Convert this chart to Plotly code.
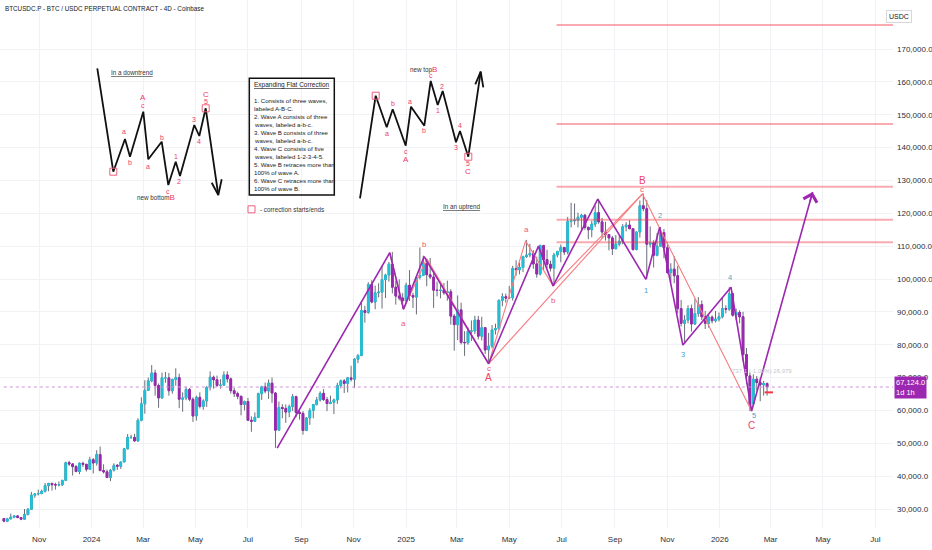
import numpy as np
import pandas as pd
import plotly.graph_objects as go

# BTCUSDC.P 4D bars, prices in thousands of USDC (open = previous close)
first_open = 27.1
closes = [
    26.3, 27.0, 27.5, 27.9, 27.4, 26.9, 28.3, 29.9, 34.2, 34.6,
    34.7, 35.4, 37.1, 37.8, 37.4, 37.3, 37.4, 38.7, 44.1, 43.7,
    42.9, 41.4, 43.9, 43.6, 42.1, 45.0, 44.0, 46.6, 41.7, 41.3,
    39.6, 41.8, 43.3, 43.0, 44.3, 48.3, 51.8, 51.8, 50.7, 57.0,
    62.0, 66.1, 69.0, 71.4, 67.6, 63.8, 69.9, 69.9, 66.0, 69.4,
    70.0, 63.4, 63.8, 66.4, 63.4, 58.3, 64.0, 61.2, 62.9, 67.0,
    70.1, 69.3, 67.6, 67.7, 70.8, 69.6, 66.0, 65.1, 64.3, 61.8,
    62.7, 57.0, 56.7, 57.9, 65.1, 67.2, 65.9, 68.3, 65.3, 54.0,
    60.9, 60.6, 59.5, 61.2, 64.2, 59.4, 59.1, 53.9, 57.7, 60.0,
    61.8, 63.2, 65.2, 63.3, 62.1, 62.5, 63.2, 67.6, 69.0, 68.2,
    69.9, 69.5, 75.6, 76.7, 90.4, 89.8, 98.3, 93.0, 95.8, 96.0,
    99.8, 101.2, 104.5, 97.5, 94.8, 94.2, 93.4, 98.1, 95.0, 94.5,
    100.5, 101.1, 104.7, 101.3, 100.6, 96.6, 96.5, 96.6, 95.8, 96.1,
    88.7, 86.1, 90.6, 80.7, 80.6, 84.1, 84.2, 87.5, 82.6, 85.2,
    78.4, 79.6, 84.5, 84.9, 93.5, 94.6, 94.2, 94.3, 103.2, 102.8,
    103.5, 106.8, 107.3, 107.8, 104.6, 101.5, 110.2, 105.9, 104.5, 103.3,
    107.3, 108.4, 109.6, 108.2, 117.5, 117.7, 117.9, 118.8, 119.4, 115.7,
    115.0, 116.7, 120.2, 117.4, 114.3, 113.5, 112.5, 109.2, 110.6, 111.5,
    115.9, 116.4, 115.3, 109.0, 114.3, 122.3, 121.4, 110.6, 111.0, 107.2,
    110.0, 114.1, 109.5, 102.0, 103.0, 101.0, 91.0, 86.5, 87.5, 91.0,
    86.3, 89.5, 92.2, 88.5, 86.5, 88.4, 87.3, 87.8, 88.5, 91.0,
    90.8, 95.5, 89.0, 89.8, 88.5, 77.0, 70.5, 62.0, 69.5, 68.5,
    67.8, 68.2, 67.124,
]
highs = [
    27.2, 27.3, 28.6, 28.0, 28.0, 27.5, 30.0, 30.3, 35.2, 34.8,
    35.9, 35.9, 37.9, 37.9, 37.9, 38.0, 38.4, 38.9, 44.4, 44.7,
    44.0, 43.4, 44.2, 44.4, 43.7, 45.9, 45.5, 47.9, 49.0, 43.6,
    42.0, 42.2, 43.9, 43.7, 44.4, 48.6, 52.8, 52.6, 52.9, 57.6,
    64.0, 69.2, 70.0, 73.8, 72.4, 68.2, 71.5, 71.7, 71.4, 69.7,
    72.8, 71.2, 65.5, 67.2, 66.8, 64.0, 64.5, 65.5, 63.4, 67.4,
    71.9, 70.6, 70.6, 69.5, 71.9, 71.9, 70.0, 66.9, 65.7, 64.5,
    63.0, 63.8, 58.2, 59.4, 65.4, 67.5, 68.5, 69.4, 70.0, 65.6,
    62.7, 61.9, 61.8, 61.8, 65.0, 64.5, 60.2, 59.8, 58.0, 60.7,
    62.0, 64.1, 65.8, 66.5, 64.1, 64.5, 63.6, 68.4, 69.4, 69.5,
    70.2, 73.6, 75.9, 77.2, 93.4, 91.8, 99.0, 99.6, 98.0, 98.7,
    104.0, 101.6, 105.2, 108.2, 99.5, 99.9, 95.7, 98.9, 102.7, 95.8,
    100.8, 109.6, 107.1, 105.3, 106.4, 102.5, 99.2, 98.5, 98.8, 99.5,
    96.9, 89.3, 95.0, 92.8, 84.1, 85.3, 87.4, 88.8, 88.8, 88.5,
    84.7, 83.6, 86.0, 86.4, 93.8, 95.7, 95.6, 97.9, 104.0, 105.7,
    105.0, 107.1, 111.9, 110.7, 108.8, 106.8, 110.5, 110.4, 108.9, 105.6,
    108.0, 108.5, 110.5, 109.7, 118.9, 123.2, 123.0, 120.2, 119.8, 119.8,
    116.0, 117.7, 122.3, 124.4, 118.6, 117.4, 113.6, 113.1, 113.4, 113.3,
    116.7, 117.3, 117.9, 115.4, 114.5, 123.9, 126.0, 124.0, 116.0, 111.8,
    114.0, 115.8, 115.2, 111.2, 104.8, 107.0, 104.0, 93.6, 89.0, 92.0,
    92.2, 94.0, 94.5, 93.5, 90.3, 89.5, 88.9, 90.3, 89.8, 94.5,
    92.0, 97.5, 95.8, 91.0, 90.5, 90.0, 79.0, 71.5, 71.0, 70.5,
    70.0, 69.0, 68.5,
]
lows = [
    26.0, 26.0, 26.9, 27.2, 27.2, 26.6, 26.8, 28.1, 29.9, 33.4,
    34.1, 34.5, 35.0, 35.4, 35.6, 35.9, 36.9, 37.0, 38.7, 43.1,
    40.2, 41.2, 40.6, 42.8, 41.4, 41.9, 40.8, 43.2, 41.5, 40.8,
    39.4, 38.5, 41.4, 41.9, 42.2, 44.3, 48.4, 51.3, 50.5, 50.5,
    56.7, 59.0, 66.0, 68.6, 64.5, 60.8, 63.6, 68.4, 64.5, 65.1,
    67.5, 60.7, 59.6, 63.1, 62.8, 56.5, 56.9, 60.6, 60.2, 61.1,
    66.1, 66.6, 67.1, 66.6, 67.6, 68.5, 65.1, 64.1, 63.4, 58.5,
    60.0, 56.8, 53.5, 56.5, 57.8, 63.2, 65.2, 63.5, 62.3, 48.6,
    54.7, 57.6, 56.2, 57.9, 59.8, 57.9, 57.2, 52.6, 53.7, 55.6,
    57.6, 61.5, 62.7, 62.9, 59.8, 61.9, 58.9, 62.0, 66.7, 65.3,
    65.5, 68.8, 66.8, 74.4, 76.5, 86.7, 89.4, 92.6, 90.8, 94.4,
    91.0, 94.2, 99.2, 95.6, 92.2, 93.5, 91.0, 92.8, 93.3, 91.2,
    89.2, 99.9, 101.2, 97.8, 100.0, 91.2, 94.7, 94.1, 95.2, 93.4,
    86.1, 78.2, 81.4, 80.1, 76.6, 80.0, 81.1, 83.2, 81.6, 81.3,
    77.2, 74.4, 78.9, 83.1, 84.4, 91.7, 92.8, 94.0, 93.4, 101.0,
    101.4, 102.1, 106.4, 106.6, 103.1, 100.4, 101.1, 102.7, 103.4, 102.3,
    97.9, 106.6, 105.1, 107.3, 107.5, 115.7, 116.5, 115.7, 114.7, 115.0,
    112.1, 112.7, 115.8, 116.8, 112.4, 111.7, 108.7, 107.3, 109.3, 110.0,
    110.6, 114.5, 115.2, 108.6, 108.7, 112.6, 120.6, 100.0, 109.6, 103.5,
    106.9, 110.0, 106.3, 101.5, 99.0, 98.7, 89.5, 85.5, 80.2, 86.5,
    84.0, 86.0, 88.5, 87.5, 84.8, 85.2, 86.5, 86.8, 87.1, 88.0,
    89.5, 90.3, 88.5, 87.5, 86.5, 75.0, 68.0, 59.8, 61.5, 66.0,
    62.8, 64.5, 64.5,
]
bar_dates = pd.date_range("2023-09-21", periods=len(closes), freq="4D")

tick_dates = ["2023-11-01", "2024-01-01", "2024-03-01", "2024-05-01", "2024-07-01",
              "2024-09-01", "2024-11-01", "2025-01-01", "2025-03-01", "2025-05-01",
              "2025-07-01", "2025-09-01", "2025-11-01", "2026-01-01", "2026-03-01",
              "2026-05-01", "2026-07-01"]
tick_text = ["Nov", "2024", "Mar", "May", "Jul", "Sep", "Nov", "2025", "Mar", "May",
             "Jul", "Sep", "Nov", "2026", "Mar", "May", "Jul"]
price_ticks = list(range(30000, 170001, 10000))

# horizontal rays (thousands)
levels = [177.3, 147.2, 128.1, 118.0, 111.2]
level_start = "2025-06-25"

# purple wave count
purple_dates = ["2024-08-04", "2024-12-13", "2024-12-29", "2025-01-22", "2025-04-07",
                "2025-06-04", "2025-06-21", "2025-08-12", "2025-10-07", "2025-10-23",
                "2025-11-19", "2026-01-14", "2026-02-07", "2026-04-19"]
purple_prices = [48.5, 108.0, 90.8, 106.8, 74.2, 110.0, 97.9, 124.3, 99.9, 115.7,
                 79.9, 97.5, 59.8, 126.5]

# red (a-b-c / A-B-C) lines
pink_dates = ["2024-12-13", "2024-12-29", "2025-01-25", "2025-04-07", "2025-05-20",
              "2025-06-21", "2025-10-03", "2026-02-07"]
pink_prices = [108.0, 90.8, 106.2, 74.2, 111.6, 97.9, 125.9, 59.8]
pink_ab_dates = ["2025-04-07", "2025-10-03"]
pink_ab_prices = [74.2, 125.9]

# wave labels on the chart
wave_text = ["a", "b", "c", "A", "a", "b", "B", "c", "C"]
wave_dates = ["2024-12-29", "2025-01-22", "2025-04-07", "2025-04-07", "2025-05-21",
              "2025-06-21", "2025-10-03", "2025-10-03", "2026-02-07"]
wave_prices = [86.5, 110.6, 72.7, 70.0, 115.1, 93.6, 130.0, 127.2, 55.4]
num_text = ["1", "2", "3", "4", "5"]
num_dates = ["2025-10-07", "2025-10-23", "2025-11-19", "2026-01-13", "2026-02-10"]
num_prices = [96.4, 119.2, 76.9, 100.5, 58.4]

# the two sketches (pixel space of the pane)
down_x = [97.3, 113.3, 125.0, 130.0, 143.3, 148.3, 161.7, 168.3, 175.7, 180.0, 194.3, 199.3, 205.7, 218.3]
down_y = [68.3, 171.7, 139.0, 156.7, 111.7, 159.3, 141.7, 185.0, 161.7, 176.0, 125.0, 136.0, 108.3, 195.0]
down_head_x = [211.7, 218.3, 221.7]
down_head_y = [182.7, 195.0, 179.3]
up_x = [360.0, 375.7, 386.7, 392.7, 405.7, 411.0, 424.3, 430.7, 437.7, 442.7, 456.0, 460.0, 468.3, 480.7]
up_y = [198.3, 95.7, 127.3, 109.3, 145.7, 106.7, 125.7, 81.0, 105.0, 91.0, 142.3, 131.0, 156.7, 71.7]
up_head_x = [475.3, 480.7, 483.3]
up_head_y = [84.3, 71.7, 87.3]
square_x = [113.3, 205.7, 375.7, 468.3, 251.5]
square_y = [171.7, 108.3, 95.7, 156.7, 209.3]
sketch_text = ["A", "c", "a", "b", "a", "b", "c", "1", "2", "3", "4", "C", "5",
               "a", "b", "c", "A", "a", "b", "c", "1", "2", "3", "4", "5", "C"]
sketch_x = [143.3, 143.3, 124.3, 130.0, 148.3, 161.7, 168.3, 175.7, 179.3, 194.3, 199.0, 205.7, 205.7,
            386.7, 392.7, 405.7, 405.7, 410.3, 424.3, 430.7, 438.3, 442.0, 456.0, 460.0, 468.3, 468.3]
sketch_y = [97.3, 105.0, 131.7, 162.7, 166.0, 137.3, 191.0, 156.0, 181.7, 119.3, 141.0, 94.3, 101.7,
            133.7, 103.3, 151.7, 159.3, 101.7, 130.0, 75.0, 110.0, 86.7, 147.3, 125.7, 163.3, 171.7]
box_lines = ["1. Consists of three waves,", "labeled A-B-C.", "2. Wave A consists of three",
             "waves, labeled a-b-c.", "3. Wave B consists of three", "waves, labeled a-b-c.",
             "4. Wave C consists of five", "waves, labeled 1-2-3-4-5.", "5. Wave B retraces more than",
             "100% of wave A.", "6. Wave C retraces more than", "100% of wave B."]
box_line_y = [100.7, 108.6, 116.6, 124.6, 132.5, 140.5, 148.5, 156.4, 164.4, 172.4, 180.3, 188.3]
box_rect = [249.3, 78.3, 334.3, 195.0]

UP = "#1fc1d9"
DOWN = "#9c27b0"
WICK = "#6a6d78"
PURPLE = "#9c27b0"
PINK = "#f77c80"
LABEL_RED = "#ef5a74"
SKETCH_RED = "#f0386b"
TEAL = "#4e9fbf"
REG = "Liberation Sans, Arial, sans-serif"

K = 1000.0
c = np.array(closes) * K
o = np.concatenate([[first_open], closes[:-1]]) * K
h = np.array(highs) * K
l = np.array(lows) * K

fig = go.Figure()

# rays and current price line
for lv in levels:
    fig.add_trace(go.Scatter(x=[level_start, "2027-06-01"], y=[lv * K, lv * K], mode="lines",
                             line=dict(color="rgba(242,54,69,0.42)", width=2), hoverinfo="skip"))
fig.add_trace(go.Scatter(x=[bar_dates[0], "2027-06-01"], y=[c[-1], c[-1]], mode="lines",
                         line=dict(color="#cf93d9", width=1, dash="dot"), hoverinfo="skip"))

# wicks, then bodies on top
fig.add_trace(go.Candlestick(x=bar_dates, open=o, high=h, low=l, close=c,
                             increasing=dict(line=dict(color=WICK, width=1), fillcolor=WICK),
                             decreasing=dict(line=dict(color=WICK, width=1), fillcolor=WICK),
                             hoverinfo="skip"))
fig.add_trace(go.Candlestick(x=bar_dates, open=o, high=np.maximum(o, c), low=np.minimum(o, c), close=c,
                             increasing=dict(line=dict(color=UP, width=1), fillcolor=UP),
                             decreasing=dict(line=dict(color=DOWN, width=1), fillcolor=DOWN),
                             hoverinfo="skip"))

fig.add_trace(go.Scatter(x=pink_dates, y=np.array(pink_prices) * K, mode="lines",
                         line=dict(color=PINK, width=1.1), hoverinfo="skip"))
fig.add_trace(go.Scatter(x=pink_ab_dates, y=np.array(pink_ab_prices) * K, mode="lines",
                         line=dict(color=PINK, width=1.1), hoverinfo="skip"))
fig.add_trace(go.Scatter(x=purple_dates, y=np.array(purple_prices) * K, mode="lines",
                         line=dict(color=PURPLE, width=1.6), hoverinfo="skip"))
fig.add_trace(go.Scatter(x=[bar_dates[-1] + pd.Timedelta(days=2)], y=[65.5 * K], mode="markers",
                         marker=dict(symbol="line-ew", size=6, line=dict(color="#f23645", width=2)),
                         hoverinfo="skip"))

# sketches
for xs, ys in [(down_x, down_y), (down_head_x, down_head_y), (up_x, up_y), (up_head_x, up_head_y)]:
    fig.add_trace(go.Scatter(x=xs, y=ys, xaxis="x2", yaxis="y2", mode="lines",
                             line=dict(color="#111111", width=1.8), hoverinfo="skip"))
fig.add_trace(go.Scatter(x=square_x, y=square_y, xaxis="x2", yaxis="y2", mode="markers",
                         marker=dict(symbol="square-open", size=7, color="#f06080", line=dict(width=1)),
                         hoverinfo="skip"))

ann = []
for t, d, p in zip(wave_text, wave_dates, wave_prices):
    big = t.isupper()
    ann.append(dict(x=d, y=p * K, xref="x", yref="y", text=t, showarrow=False,
                    font=dict(family=REG, size=10 if big else 8, color="#ee4466" if big else LABEL_RED)))
for t, d, p in zip(num_text, num_dates, num_prices):
    ann.append(dict(x=d, y=p * K, xref="x", yref="y", text=t, showarrow=False,
                    font=dict(family=REG, size=7.5, color=TEAL)))
# arrow head of the projected move
ann.append(dict(x=purple_dates[-1], y=purple_prices[-1] * K, xref="x", yref="y", text="",
                showarrow=True, ax=-3.2, ay=11.6, arrowhead=4, arrowsize=1.7, arrowwidth=1.6,
                arrowcolor=PURPLE))

for t, xv, yv in zip(sketch_text, sketch_x, sketch_y):
    ann.append(dict(x=xv, y=yv, xref="x2", yref="y2", text=t, showarrow=False,
                    font=dict(family=REG, size=8 if t.isupper() else 7, color=SKETCH_RED)))
for t, yv in zip(box_lines, box_line_y):
    ann.append(dict(x=box_rect[0] + 3.0, y=yv, xref="x2", yref="y2", text=t, showarrow=False,
                    xanchor="left", font=dict(family=REG, size=6.1, color="#222222")))
sk_font = dict(family=REG, size=6.3, color="#333333")
ann += [
    dict(x=box_rect[0] + 3.0, y=85.0, xref="x2", yref="y2", text="<u>Expanding Flat Correction</u>",
         showarrow=False, xanchor="left", font=dict(family=REG, size=6.5, color="#222222")),
    dict(x=131.7, y=72.3, xref="x2", yref="y2", text="<u>In a downtrend</u>", showarrow=False, font=sk_font),
    dict(x=461.7, y=206.7, xref="x2", yref="y2", text="<u>In an uptrend</u>", showarrow=False, font=sk_font),
    dict(x=135.0, y=197.3, xref="x2", yref="y2", xanchor="left", showarrow=False, font=sk_font,
         text="new bottom<span style='color:%s;font-size:8px'>B</span>" % SKETCH_RED),
    dict(x=408.3, y=69.0, xref="x2", yref="y2", xanchor="left", showarrow=False, font=sk_font,
         text="new top<span style='color:%s;font-size:8px'>B</span>" % SKETCH_RED),
    dict(x=257.7, y=209.3, xref="x2", yref="y2", xanchor="left", showarrow=False, font=sk_font,
         text="- correction starts/ends"),
    dict(x=3, y=8, xref="x2", yref="y2", xanchor="left", showarrow=False,
         text="BTCUSDC.P - BTC / USDC PERPETUAL CONTRACT - 4D - Coinbase",
         font=dict(family=REG, size=6.3, color="#131722")),
    dict(x=794, y=371, xref="x2", yref="y2", xanchor="right", showarrow=False,
         text="-737.1 (-1.09%) 26,979", font=dict(family=REG, size=6, color="#c3c5cc")),
    dict(x=1.0, y=c[-1], xref="paper", yref="y", xanchor="left", xshift=1, showarrow=False,
         text="67,124.0<br>1d 1h", align="left", bgcolor=DOWN, borderpad=1,
         font=dict(family=REG, size=7.5, color="white")),
    dict(x=912 / 893, y=1 - 10 / 528, xref="paper", yref="paper", showarrow=False, text="USDC",
         bordercolor="#d6d8de", borderwidth=1, borderpad=2, font=dict(family=REG, size=7, color="#131722")),
]

shapes = [dict(type="rect", xref="x2", yref="y2", x0=box_rect[0], y0=box_rect[1], x1=box_rect[2],
               y1=box_rect[3], line=dict(color="#111111", width=1.5), fillcolor="rgba(255,255,255,0)",
               layer="above")]

fig.update_layout(
    width=932, height=550,
    margin=dict(l=0, r=39, t=0, b=22),
    paper_bgcolor="white", plot_bgcolor="white",
    showlegend=False,
    annotations=ann, shapes=shapes,
    xaxis=dict(type="date", range=["2023-09-16 12:00", "2026-07-21 12:00"],
               tickvals=tick_dates, ticktext=tick_text, showgrid=True, gridcolor="#f1f2f5",
               zeroline=False, showline=False, ticks="", ticklabelstandoff=5,
               tickfont=dict(family=REG, size=8, color="#2a2e39"),
               rangeslider=dict(visible=False), fixedrange=True),
    yaxis=dict(side="right", range=[24217, 184913], tickvals=price_ticks, tickformat=",.1f",
               showgrid=True, gridcolor="#f1f2f5", zeroline=False, showline=False, ticks="",
               ticklabelstandoff=3, automargin=False,
               tickfont=dict(family=REG, size=8, color="#2a2e39"), fixedrange=True),
    xaxis2=dict(overlaying="x", range=[0, 893], visible=False, fixedrange=True),
    yaxis2=dict(overlaying="y", range=[528, 0], visible=False, fixedrange=True),
)

# the page's default 8px body margin would shift the whole chart
fig.write_html("out.html", config={"displayModeBar": False},
               post_script="document.body.style.margin='0';")
